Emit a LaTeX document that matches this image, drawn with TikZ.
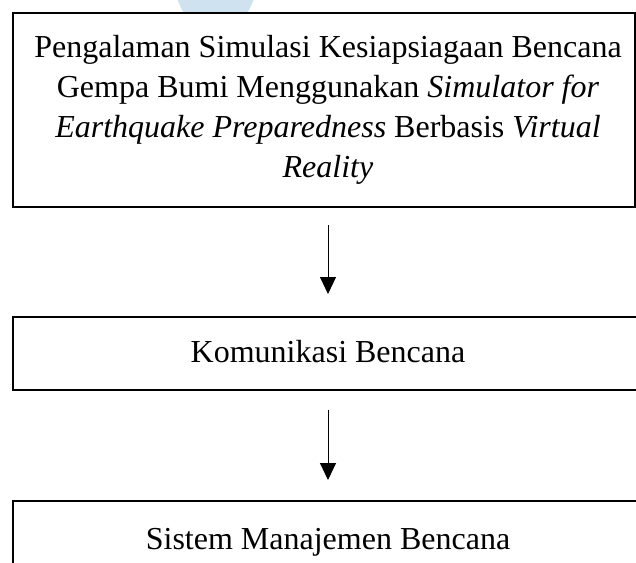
\documentclass[tikz,border=0pt]{standalone}
\usepackage{fontspec}
\setmainfont{Liberation Serif}
\usetikzlibrary{arrows.meta,calc}
\definecolor{wmblue}{RGB}{206,226,239}
\begin{document}
\begin{tikzpicture}[x=1pt,y=-1pt,
  box/.style={draw, line width=2pt, inner sep=0pt, anchor=north west},
  lbl/.style={font=\fontsize{32}{40}\selectfont, align=center, inner sep=0pt},
  arr/.style={-{Triangle[width=16pt,length=17pt]}, line width=1pt}]
\useasboundingbox (0,0) rectangle (636,562);
\clip (0,0) rectangle (636,562);
\fill[wmblue] (177,-1) -- (254,-1) -- (250,8) .. controls (248,12) .. (245,13) -- (186,13) .. controls (183,12) .. (181,8) -- cycle;
\node[box, minimum width=622pt, minimum height=194pt] (b1) at (12,12) {};
\node[box, minimum width=632pt, minimum height=73pt] (b2) at (12,316) {};
\node[box, minimum width=632pt, minimum height=100pt] (b3) at (12,500) {};
\node[lbl] (t1) at (328,110) {Pengalaman Simulasi Kesiapsiagaan Bencana\\Gempa Bumi Menggunakan \textit{Simulator for}\\\textit{Earthquake Preparedness} Berbasis \textit{Virtual}\\\textit{Reality}};
\node[lbl] (t2) at (328,352) {Komunikasi Bencana};
\node[lbl] (t3) at (328,542) {Sistem Manajemen Bencana};
\draw[arr, shorten <=17pt, shorten >=22pt] (t1 |- b1.south) -- (t1 |- b2.north);
\draw[arr, shorten <=19pt, shorten >=20pt] (t2 |- b2.south) -- (t2 |- b3.north);
\end{tikzpicture}
\end{document}
